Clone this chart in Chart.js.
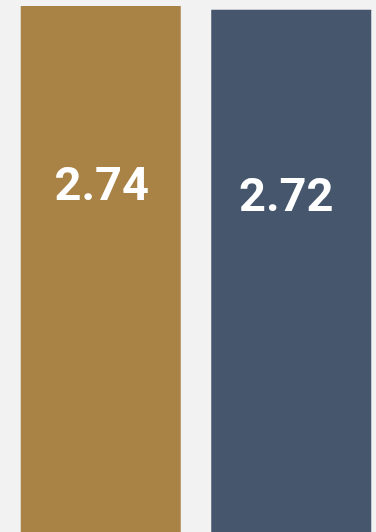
<!DOCTYPE html>
<html>
<head>
<meta charset="utf-8">
<script src="https://cdn.jsdelivr.net/npm/chart.js@4/dist/chart.umd.min.js"></script>
<style>
  html, body { margin: 0; padding: 0; background: #f2f2f2; }
  #wrap { width: 376px; height: 532px; position: relative; }
</style>
</head>
<body>
<div id="wrap"><canvas id="c"></canvas></div>
<script>
const categories = [''];
const seriesNames = ['Series A', 'Series B'];
const seriesValues = [[2.74], [2.72]];
const seriesColors = ['#a98245', '#45566d'];
const axisMin = 0;
const axisMax = 2.771;

const labelStyles = [
  { dx: 1, dy: 182 },
  { dx: -5, dy: 189 }
];

const valueLabels = {
  id: 'valueLabels',
  afterDatasetsDraw(chart) {
    const ctx = chart.ctx;
    ctx.save();
    ctx.fillStyle = '#ffffff';
    ctx.font = 'bold 47px Roboto, "Liberation Sans", sans-serif';
    ctx.textAlign = 'center';
    ctx.textBaseline = 'middle';
    chart.data.datasets.forEach((ds, di) => {
      const meta = chart.getDatasetMeta(di);
      const st = labelStyles[di];
      meta.data.forEach((bar, i) => {
        const v = ds.data[i];
        ctx.fillText(v.toFixed(2), bar.x + st.dx, bar.y + st.dy);
      });
    });
    ctx.restore();
  }
};

new Chart(document.getElementById('c'), {
  type: 'bar',
  data: {
    labels: categories,
    datasets: seriesNames.map((name, i) => ({
      label: name,
      data: seriesValues[i],
      backgroundColor: seriesColors[i],
      borderWidth: 0,
      barPercentage: 0.84,
      categoryPercentage: 1.0583
    }))
  },
  options: {
    responsive: true,
    maintainAspectRatio: false,
    animation: false,
    layout: { padding: { left: 16, right: 0, top: 0, bottom: 0 } },
    plugins: { legend: { display: false }, tooltip: { enabled: false } },
    scales: {
      x: { display: false },
      y: { display: false, min: axisMin, max: axisMax }
    }
  },
  plugins: [valueLabels]
});
</script>
</body>
</html>
